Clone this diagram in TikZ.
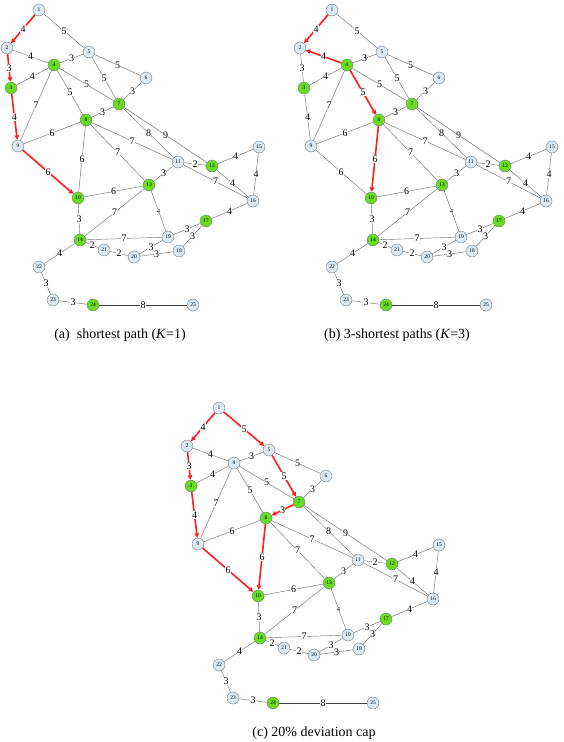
\documentclass[tikz,border=0pt]{standalone}
\usepackage{fontspec}
\setmainfont{Liberation Serif}
\usetikzlibrary{arrows.meta}

\definecolor{nodeblue}{RGB}{220,233,243}
\definecolor{nodegreen}{RGB}{104,220,30}
\definecolor{nodeline}{RGB}{110,125,140}
\definecolor{pathred}{RGB}{255,30,30}
\newcommand\smallw{\fontsize{6.5}{6.5}\selectfont}

\tikzset{
  blu/.style={circle,draw=nodeline,fill=nodeblue,minimum size=12pt,inner sep=0pt,font=\fontsize{5.5}{6}\selectfont},
  grn/.style={blu,fill=nodegreen},
  wt/.style={fill=white,inner sep=0.3pt,font=\fontsize{10}{10}\selectfont},
  hot/.style={draw=pathred,line width=1.6pt,-{Triangle[length=4.5pt,width=4.5pt]}},
  every edge/.style={draw=gray!90!black,line width=0.45pt},
  e24-25/.style={draw=black!75,line width=0.9pt},
  subcap/.style={font=\fontsize{14}{15}\selectfont}
}

% one network, node names get the prefix #1
\newcommand\drawnet[1]{
  \foreach \n/\x/\y/\k in {1/39/10/blu, 2/7/48/blu, 3/11/88/grn, 4/54/65/hub,
    5/89/52/blu, 6/146/78/blu, 7/119/104/grn, 8/86/120/grn, 9/18/146/blu,
    10/78/198/grn, 11/178/162/blu, 12/212/166/grn, 13/149/185/grn,
    14/80/240/grn, 15/259/147/blu, 16/253/201/blu, 17/206/221/grn,
    18/179/251/blu, 19/168/237/blu, 20/134/257/blu, 21/104/250/blu,
    22/39/267/blu, 23/53/300/blu, 24/93/305/grn, 25/193/305/blu}
    \node[\k] (#1\n) at (\x,\y) {\n};
  \foreach \a/\b/\w in {1/2/4, 1/5/5, 2/3/3, 4/2/4, 3/4/4, 3/9/4, 4/5/3,
    4/7/5, 4/8/5, 4/9/7, 5/6/5, 5/7/5, 6/7/3, 7/8/3, 7/11/8, 7/12/9,
    8/9/6, 8/10/6, 8/11/7, 8/13/7, 9/10/6, 10/13/6, 10/14/3, 11/12/2,
    11/13/3, 11/16/7, 12/15/4, 12/16/4, 15/16/4, 16/17/4, 13/14/7,
    13/19/{\smallw 4}, 14/19/7, 14/21/2, 21/20/2, 20/19/3, 20/18/3,
    17/19/3, 17/18/3, 14/22/4, 22/23/3, 23/24/3, 24/25/8}
    \path (#1\a) edge[e\a-\b/.try] node[wt] {\w} (#1\b);
}

\begin{document}
\begin{tikzpicture}[x=1pt,y={(0pt,-1pt)}]
\useasboundingbox (0,0) rectangle (563,742);

% (a) shortest path
\begin{scope}[hub/.style=grn,
  e1-2/.style=hot, e2-3/.style=hot, e3-9/.style=hot, e9-10/.style=hot]
\drawnet{a}
\end{scope}

% (b) 3 shortest paths
\begin{scope}[shift={(293,0)}, hub/.style=grn,
  e1-2/.style=hot, e4-2/.style=hot, e4-8/.style=hot, e8-10/.style=hot]
\drawnet{b}
\end{scope}

% (c) deviation cap
\begin{scope}[shift={(180,398)}, hub/.style=blu,
  e1-2/.style=hot, e2-3/.style=hot, e3-9/.style=hot, e9-10/.style=hot,
  e1-5/.style=hot, e5-7/.style=hot, e7-8/.style=hot, e8-10/.style=hot]
\drawnet{c}
\end{scope}

\node[subcap] (capa) at (120,335) {(a)~ shortest path (\textit{K}=1)};
\node[subcap] (capb) at (397,335) {(b) 3-shortest paths (\textit{K}=3)};
\node[subcap] (capc) at (314,733) {(c) 20\% deviation cap};
\end{tikzpicture}
\end{document}
